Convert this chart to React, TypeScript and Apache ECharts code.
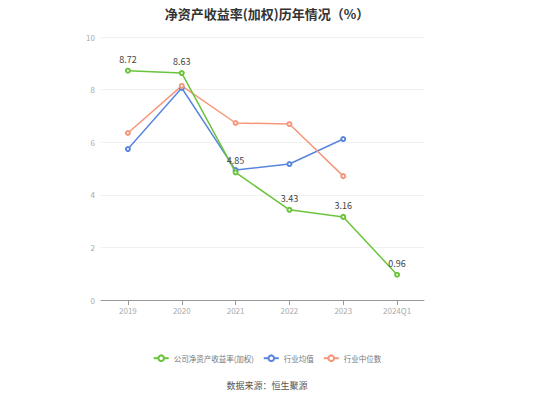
import { useEffect, useRef } from 'react'
import * as echarts from 'echarts'

const categories = ['2019', '2020', '2021', '2022', '2023', '2024Q1']
const companyRoe = [8.72, 8.63, 4.85, 3.43, 3.16, 0.96]
const industryMean = [5.74, 8.06, 4.94, 5.17, 6.12, null]
const industryMedian = [6.35, 8.14, 6.73, 6.69, 4.71, null]

const FONT = '"Noto Sans CJK SC", "Noto Sans", sans-serif'

export default function App() {
  const chartRef = useRef<HTMLDivElement>(null)

  useEffect(() => {
    if (!chartRef.current) return
    const chart = echarts.init(chartRef.current, undefined, { renderer: 'svg' })

    const lineSeries = (name: string, data: (number | null)[], color: string, labels: boolean) => ({
      name,
      type: 'line',
      data,
      symbol: 'emptyCircle',
      symbolSize: 4,
      itemStyle: { color, borderColor: color, borderWidth: 1.5 },
      lineStyle: { width: 1.5, color },
      label: labels
        ? { show: true, position: 'top', color: '#444', fontSize: 9, fontFamily: FONT, distance: 4 }
        : { show: false },
      z: labels ? 3 : 2,
    })

    chart.setOption({
      animation: false,
      textStyle: { fontFamily: FONT },
      title: {
        text: '净资产收益率(加权)历年情况（%）',
        left: 'center',
        top: 2,
        textStyle: { fontSize: 13, fontWeight: 'bold', color: '#333', fontFamily: FONT },
      },
      grid: { left: 101, right: 110, top: 37, bottom: 100 },
      legend: {
        bottom: 33,
        left: 'center',
        itemWidth: 15,
        itemHeight: 7,
        itemGap: 9,
        textStyle: { fontSize: 7.5, color: '#777', fontFamily: FONT },
        data: ['公司净资产收益率(加权)', '行业均值', '行业中位数'],
      },
      graphic: [
        {
          type: 'text',
          left: 'center',
          top: 381,
          style: { text: '数据来源：恒生聚源', fontSize: 9, fill: '#555', fontFamily: FONT },
        },
      ],
      xAxis: {
        type: 'category',
        data: categories,
        boundaryGap: true,
        axisLine: { lineStyle: { color: '#999' } },
        axisTick: { show: true, alignWithLabel: true, lineStyle: { color: '#999' } },
        axisLabel: { color: '#aaa', fontSize: 8, margin: 6 },
      },
      yAxis: {
        type: 'value',
        min: 0,
        max: 10,
        interval: 2,
        axisLine: { show: false },
        axisTick: { show: false },
        splitLine: { lineStyle: { color: '#f0f0f0' } },
        axisLabel: { color: '#aaa', fontSize: 8, margin: 6 },
      },
      series: [
        lineSeries('公司净资产收益率(加权)', companyRoe, '#6bc43b', true),
        lineSeries('行业均值', industryMean, '#5a86de', false),
        lineSeries('行业中位数', industryMedian, '#f5977a', false),
      ],
    })

    return () => {
      chart.dispose()
    }
  }, [])

  return <div ref={chartRef} style={{ width: 534, height: 400, margin: -8 }} />
}
